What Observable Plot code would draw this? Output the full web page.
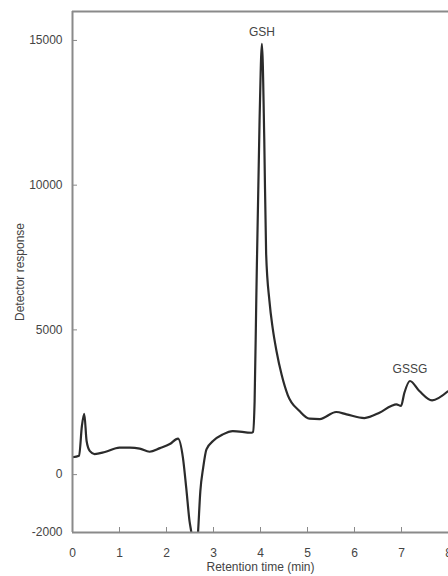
<!DOCTYPE html>
<html>
<head>
<meta charset="utf-8">
<script src="https://cdn.jsdelivr.net/npm/d3@7"></script>
<script src="https://cdn.jsdelivr.net/npm/@observablehq/plot@0.6"></script>
<style>
  html, body { margin: 0; padding: 0; background: #fff; overflow: hidden; }
  #chart svg { display: block; }
</style>
</head>
<body>
<div id="chart"></div>
<script>
// Retention time (min)
const time = [0, 0.14, 0.2, 0.25, 0.30, 0.37, 0.47, 0.69, 1.0, 1.22, 1.43, 1.64, 1.86, 2.07, 2.245, 2.35, 2.42, 2.49, 2.53, 2.6, 2.67, 2.72, 2.78, 2.85, 2.99, 3.20, 3.41, 3.81, 3.84, 3.875, 3.91, 3.98, 4.03, 4.08, 4.12, 4.19, 4.26, 4.34, 4.45, 4.58, 4.83, 5.04, 5.26, 5.61, 5.83, 6.21, 6.53, 6.78, 6.89, 6.99, 7.06, 7.18, 7.38, 7.65, 7.98];
// Detector response
const response = [600, 650, 1680, 2100, 1160, 810, 710, 780, 930, 935, 900, 790, 915, 1055, 1245, 580, -457, -1610, -2024, -3500, -2024, -571, 235, 872, 1160, 1390, 1505, 1446, 1470, 2543, 6003, 12230, 14885, 11600, 7630, 6003, 5050, 4273, 3450, 2750, 2197, 1931, 1920, 2163, 2083, 1955, 2138, 2370, 2429, 2370, 2820, 3235, 2889, 2567, 2872];

const peakLabels = ["GSH", "GSSG"];
const peakTimes = [4.03, 7.18];
const peakValues = [14885, 3235];

const xTicks = [0, 1, 2, 3, 4, 5, 6, 7, 8];
const yTicks = [-2000, 0, 5000, 10000, 15000];

const trace = time.map((t, i) => ({t, v: response[i]}));
const peaks = peakLabels.map((label, i) => ({label, t: peakTimes[i], v: peakValues[i]}));

const frameColor = "#8a8a8a";
const textColor = "#444";

const chart = Plot.plot({
  width: 448,
  height: 576,
  marginLeft: 72,
  marginRight: 0,
  marginTop: 11,
  marginBottom: 44,
  style: {fontFamily: "'Liberation Sans', Arial, sans-serif", fontSize: "12px", color: textColor, background: "#fff"},
  x: {domain: [0, 8]},
  y: {domain: [-2000, 16000]},
  marks: [
    Plot.axisY({ticks: yTicks, tickSize: -5, text: null, label: null, stroke: frameColor}),
    Plot.axisY({ticks: yTicks, tickSize: 0, tickPadding: 10, tickFormat: d => String(d), fill: textColor, fontSize: 12,
      label: "Detector response", labelAnchor: "center", labelArrow: "none", labelOffset: 57}),
    Plot.axisX({ticks: xTicks, tickSize: -5, text: null, label: null, stroke: frameColor}),
    Plot.axisX({ticks: xTicks, tickSize: 0, tickPadding: 16, fill: textColor, fontSize: 12,
      label: "Retention time (min)", labelAnchor: "center", labelArrow: "none", labelOffset: 38}),
    Plot.line(trace, {x: "t", y: "v", stroke: "#2b2b2b", strokeWidth: 2.2, curve: "monotone-x", clip: true}),
    Plot.ruleX([0], {stroke: frameColor, strokeWidth: 2}),
    Plot.ruleY([-2000, 16000], {stroke: frameColor, strokeWidth: 2}),
    Plot.text(peaks, {x: "t", y: "v", text: "label", dy: -12, fill: textColor, fontSize: 12})
  ]
});
document.getElementById("chart").append(chart);
</script>
</body>
</html>
